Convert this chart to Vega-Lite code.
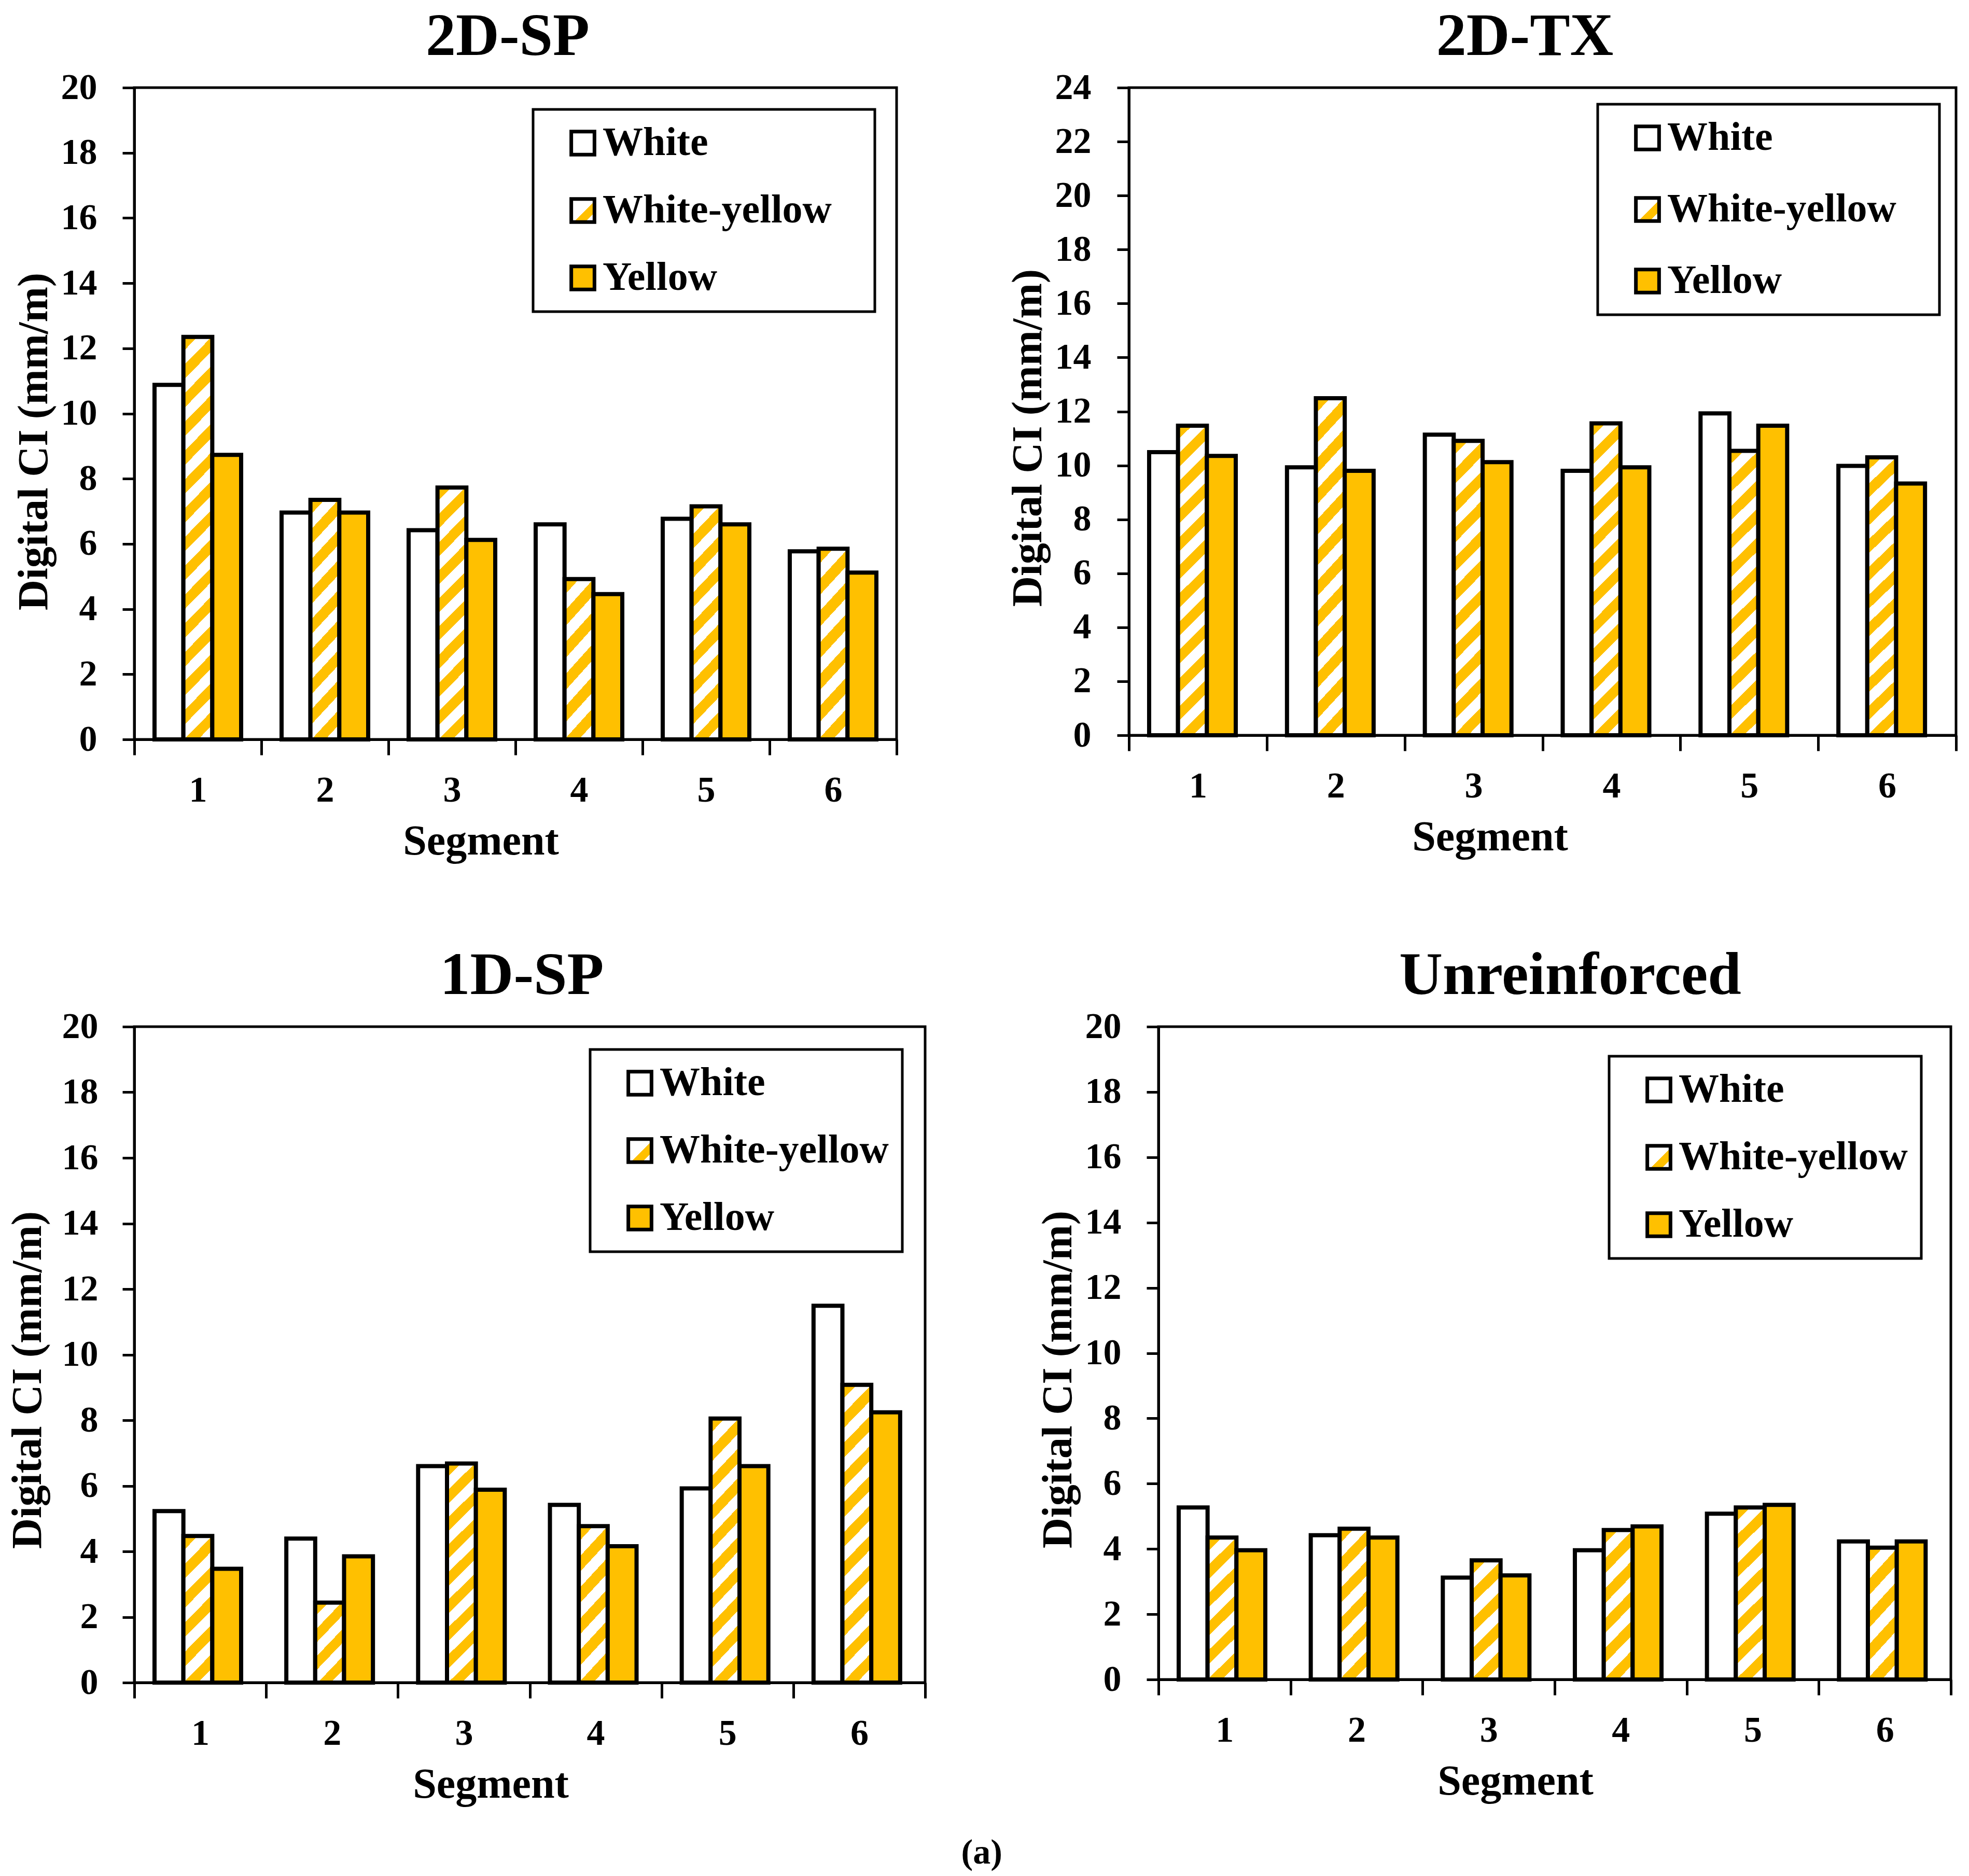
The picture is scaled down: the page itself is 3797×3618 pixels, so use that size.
{
"$schema": "https://vega.github.io/schema/vega-lite/v6.json",
"background": "white",
"padding": {"left": 9, "top": 10, "right": 5, "bottom": 5},
"params": [
{"name": "gl", "value": {"gradient": "linear", "x1": 0, "y1": 0, "x2": 1, "y2": 1, "stops": [{"offset":0,"color":"#FFFFFF"},{"offset":0.55,"color":"#FFFFFF"},{"offset":0.55,"color":"#FFC000"},{"offset":0.8,"color":"#FFC000"},{"offset":0.8,"color":"#FFFFFF"},{"offset":1,"color":"#FFFFFF"}]}},
{"name": "g4", "value": {"gradient": "linear", "x1": 0, "y1": 0, "x2": 0.4558, "y2": 1.2057, "stops": [{"offset":0,"color":"#FFC000"},{"offset":0.125,"color":"#FFC000"},{"offset":0.125,"color":"#FFFFFF"},{"offset":0.25,"color":"#FFFFFF"},{"offset":0.25,"color":"#FFC000"},{"offset":0.375,"color":"#FFC000"},{"offset":0.375,"color":"#FFFFFF"},{"offset":0.5,"color":"#FFFFFF"},{"offset":0.5,"color":"#FFC000"},{"offset":0.625,"color":"#FFC000"},{"offset":0.625,"color":"#FFFFFF"},{"offset":0.75,"color":"#FFFFFF"},{"offset":0.75,"color":"#FFC000"},{"offset":0.875,"color":"#FFC000"},{"offset":0.875,"color":"#FFFFFF"},{"offset":1,"color":"#FFFFFF"}]}},
{"name": "g5", "value": {"gradient": "linear", "x1": 0, "y1": 0, "x2": 0.2814, "y2": 1.1725, "stops": [{"offset":0,"color":"#FFC000"},{"offset":0.1,"color":"#FFC000"},{"offset":0.1,"color":"#FFFFFF"},{"offset":0.2,"color":"#FFFFFF"},{"offset":0.2,"color":"#FFC000"},{"offset":0.3,"color":"#FFC000"},{"offset":0.3,"color":"#FFFFFF"},{"offset":0.4,"color":"#FFFFFF"},{"offset":0.4,"color":"#FFC000"},{"offset":0.5,"color":"#FFC000"},{"offset":0.5,"color":"#FFFFFF"},{"offset":0.6,"color":"#FFFFFF"},{"offset":0.6,"color":"#FFC000"},{"offset":0.7,"color":"#FFC000"},{"offset":0.7,"color":"#FFFFFF"},{"offset":0.8,"color":"#FFFFFF"},{"offset":0.8,"color":"#FFC000"},{"offset":0.9,"color":"#FFC000"},{"offset":0.9,"color":"#FFFFFF"},{"offset":1,"color":"#FFFFFF"}]}},
{"name": "g6", "value": {"gradient": "linear", "x1": 0, "y1": 0, "x2": 0.2308, "y2": 1.1538, "stops": [{"offset":0,"color":"#FFC000"},{"offset":0.0833,"color":"#FFC000"},{"offset":0.0833,"color":"#FFFFFF"},{"offset":0.1667,"color":"#FFFFFF"},{"offset":0.1667,"color":"#FFC000"},{"offset":0.25,"color":"#FFC000"},{"offset":0.25,"color":"#FFFFFF"},{"offset":0.3333,"color":"#FFFFFF"},{"offset":0.3333,"color":"#FFC000"},{"offset":0.4167,"color":"#FFC000"},{"offset":0.4167,"color":"#FFFFFF"},{"offset":0.5,"color":"#FFFFFF"},{"offset":0.5,"color":"#FFC000"},{"offset":0.5833,"color":"#FFC000"},{"offset":0.5833,"color":"#FFFFFF"},{"offset":0.6667,"color":"#FFFFFF"},{"offset":0.6667,"color":"#FFC000"},{"offset":0.75,"color":"#FFC000"},{"offset":0.75,"color":"#FFFFFF"},{"offset":0.8333,"color":"#FFFFFF"},{"offset":0.8333,"color":"#FFC000"},{"offset":0.9167,"color":"#FFC000"},{"offset":0.9167,"color":"#FFFFFF"},{"offset":1,"color":"#FFFFFF"}]}},
{"name": "g7", "value": {"gradient": "linear", "x1": 0, "y1": 0, "x2": 0.1871, "y2": 1.1341, "stops": [{"offset":0,"color":"#FFC000"},{"offset":0.0714,"color":"#FFC000"},{"offset":0.0714,"color":"#FFFFFF"},{"offset":0.1429,"color":"#FFFFFF"},{"offset":0.1429,"color":"#FFC000"},{"offset":0.2143,"color":"#FFC000"},{"offset":0.2143,"color":"#FFFFFF"},{"offset":0.2857,"color":"#FFFFFF"},{"offset":0.2857,"color":"#FFC000"},{"offset":0.3571,"color":"#FFC000"},{"offset":0.3571,"color":"#FFFFFF"},{"offset":0.4286,"color":"#FFFFFF"},{"offset":0.4286,"color":"#FFC000"},{"offset":0.5,"color":"#FFC000"},{"offset":0.5,"color":"#FFFFFF"},{"offset":0.5714,"color":"#FFFFFF"},{"offset":0.5714,"color":"#FFC000"},{"offset":0.6429,"color":"#FFC000"},{"offset":0.6429,"color":"#FFFFFF"},{"offset":0.7143,"color":"#FFFFFF"},{"offset":0.7143,"color":"#FFC000"},{"offset":0.7857,"color":"#FFC000"},{"offset":0.7857,"color":"#FFFFFF"},{"offset":0.8571,"color":"#FFFFFF"},{"offset":0.8571,"color":"#FFC000"},{"offset":0.9286,"color":"#FFC000"},{"offset":0.9286,"color":"#FFFFFF"},{"offset":1,"color":"#FFFFFF"}]}},
{"name": "g9", "value": {"gradient": "linear", "x1": 0, "y1": 0, "x2": 0.1445, "y2": 1.1112, "stops": [{"offset":0,"color":"#FFC000"},{"offset":0.0556,"color":"#FFC000"},{"offset":0.0556,"color":"#FFFFFF"},{"offset":0.1111,"color":"#FFFFFF"},{"offset":0.1111,"color":"#FFC000"},{"offset":0.1667,"color":"#FFC000"},{"offset":0.1667,"color":"#FFFFFF"},{"offset":0.2222,"color":"#FFFFFF"},{"offset":0.2222,"color":"#FFC000"},{"offset":0.2778,"color":"#FFC000"},{"offset":0.2778,"color":"#FFFFFF"},{"offset":0.3333,"color":"#FFFFFF"},{"offset":0.3333,"color":"#FFC000"},{"offset":0.3889,"color":"#FFC000"},{"offset":0.3889,"color":"#FFFFFF"},{"offset":0.4444,"color":"#FFFFFF"},{"offset":0.4444,"color":"#FFC000"},{"offset":0.5,"color":"#FFC000"},{"offset":0.5,"color":"#FFFFFF"},{"offset":0.5556,"color":"#FFFFFF"},{"offset":0.5556,"color":"#FFC000"},{"offset":0.6111,"color":"#FFC000"},{"offset":0.6111,"color":"#FFFFFF"},{"offset":0.6667,"color":"#FFFFFF"},{"offset":0.6667,"color":"#FFC000"},{"offset":0.7222,"color":"#FFC000"},{"offset":0.7222,"color":"#FFFFFF"},{"offset":0.7778,"color":"#FFFFFF"},{"offset":0.7778,"color":"#FFC000"},{"offset":0.8333,"color":"#FFC000"},{"offset":0.8333,"color":"#FFFFFF"},{"offset":0.8889,"color":"#FFFFFF"},{"offset":0.8889,"color":"#FFC000"},{"offset":0.9444,"color":"#FFC000"},{"offset":0.9444,"color":"#FFFFFF"},{"offset":1,"color":"#FFFFFF"}]}},
{"name": "g10", "value": {"gradient": "linear", "x1": 0, "y1": 0, "x2": 0.1277, "y2": 1.1012, "stops": [{"offset":0,"color":"#FFC000"},{"offset":0.05,"color":"#FFC000"},{"offset":0.05,"color":"#FFFFFF"},{"offset":0.1,"color":"#FFFFFF"},{"offset":0.1,"color":"#FFC000"},{"offset":0.15,"color":"#FFC000"},{"offset":0.15,"color":"#FFFFFF"},{"offset":0.2,"color":"#FFFFFF"},{"offset":0.2,"color":"#FFC000"},{"offset":0.25,"color":"#FFC000"},{"offset":0.25,"color":"#FFFFFF"},{"offset":0.3,"color":"#FFFFFF"},{"offset":0.3,"color":"#FFC000"},{"offset":0.35,"color":"#FFC000"},{"offset":0.35,"color":"#FFFFFF"},{"offset":0.4,"color":"#FFFFFF"},{"offset":0.4,"color":"#FFC000"},{"offset":0.45,"color":"#FFC000"},{"offset":0.45,"color":"#FFFFFF"},{"offset":0.5,"color":"#FFFFFF"},{"offset":0.5,"color":"#FFC000"},{"offset":0.55,"color":"#FFC000"},{"offset":0.55,"color":"#FFFFFF"},{"offset":0.6,"color":"#FFFFFF"},{"offset":0.6,"color":"#FFC000"},{"offset":0.65,"color":"#FFC000"},{"offset":0.65,"color":"#FFFFFF"},{"offset":0.7,"color":"#FFFFFF"},{"offset":0.7,"color":"#FFC000"},{"offset":0.75,"color":"#FFC000"},{"offset":0.75,"color":"#FFFFFF"},{"offset":0.8,"color":"#FFFFFF"},{"offset":0.8,"color":"#FFC000"},{"offset":0.85,"color":"#FFC000"},{"offset":0.85,"color":"#FFFFFF"},{"offset":0.9,"color":"#FFFFFF"},{"offset":0.9,"color":"#FFC000"},{"offset":0.95,"color":"#FFC000"},{"offset":0.95,"color":"#FFFFFF"},{"offset":1,"color":"#FFFFFF"}]}},
{"name": "g11", "value": {"gradient": "linear", "x1": 0, "y1": 0, "x2": 0.1089, "y2": 1.0891, "stops": [{"offset":0,"color":"#FFC000"},{"offset":0.0455,"color":"#FFC000"},{"offset":0.0455,"color":"#FFFFFF"},{"offset":0.0909,"color":"#FFFFFF"},{"offset":0.0909,"color":"#FFC000"},{"offset":0.1364,"color":"#FFC000"},{"offset":0.1364,"color":"#FFFFFF"},{"offset":0.1818,"color":"#FFFFFF"},{"offset":0.1818,"color":"#FFC000"},{"offset":0.2273,"color":"#FFC000"},{"offset":0.2273,"color":"#FFFFFF"},{"offset":0.2727,"color":"#FFFFFF"},{"offset":0.2727,"color":"#FFC000"},{"offset":0.3182,"color":"#FFC000"},{"offset":0.3182,"color":"#FFFFFF"},{"offset":0.3636,"color":"#FFFFFF"},{"offset":0.3636,"color":"#FFC000"},{"offset":0.4091,"color":"#FFC000"},{"offset":0.4091,"color":"#FFFFFF"},{"offset":0.4545,"color":"#FFFFFF"},{"offset":0.4545,"color":"#FFC000"},{"offset":0.5,"color":"#FFC000"},{"offset":0.5,"color":"#FFFFFF"},{"offset":0.5455,"color":"#FFFFFF"},{"offset":0.5455,"color":"#FFC000"},{"offset":0.5909,"color":"#FFC000"},{"offset":0.5909,"color":"#FFFFFF"},{"offset":0.6364,"color":"#FFFFFF"},{"offset":0.6364,"color":"#FFC000"},{"offset":0.6818,"color":"#FFC000"},{"offset":0.6818,"color":"#FFFFFF"},{"offset":0.7273,"color":"#FFFFFF"},{"offset":0.7273,"color":"#FFC000"},{"offset":0.7727,"color":"#FFC000"},{"offset":0.7727,"color":"#FFFFFF"},{"offset":0.8182,"color":"#FFFFFF"},{"offset":0.8182,"color":"#FFC000"},{"offset":0.8636,"color":"#FFC000"},{"offset":0.8636,"color":"#FFFFFF"},{"offset":0.9091,"color":"#FFFFFF"},{"offset":0.9091,"color":"#FFC000"},{"offset":0.9545,"color":"#FFC000"},{"offset":0.9545,"color":"#FFFFFF"},{"offset":1,"color":"#FFFFFF"}]}},
{"name": "g12", "value": {"gradient": "linear", "x1": 0, "y1": 0, "x2": 0.1008, "y2": 1.0836, "stops": [{"offset":0,"color":"#FFC000"},{"offset":0.0417,"color":"#FFC000"},{"offset":0.0417,"color":"#FFFFFF"},{"offset":0.0833,"color":"#FFFFFF"},{"offset":0.0833,"color":"#FFC000"},{"offset":0.125,"color":"#FFC000"},{"offset":0.125,"color":"#FFFFFF"},{"offset":0.1667,"color":"#FFFFFF"},{"offset":0.1667,"color":"#FFC000"},{"offset":0.2083,"color":"#FFC000"},{"offset":0.2083,"color":"#FFFFFF"},{"offset":0.25,"color":"#FFFFFF"},{"offset":0.25,"color":"#FFC000"},{"offset":0.2917,"color":"#FFC000"},{"offset":0.2917,"color":"#FFFFFF"},{"offset":0.3333,"color":"#FFFFFF"},{"offset":0.3333,"color":"#FFC000"},{"offset":0.375,"color":"#FFC000"},{"offset":0.375,"color":"#FFFFFF"},{"offset":0.4167,"color":"#FFFFFF"},{"offset":0.4167,"color":"#FFC000"},{"offset":0.4583,"color":"#FFC000"},{"offset":0.4583,"color":"#FFFFFF"},{"offset":0.5,"color":"#FFFFFF"},{"offset":0.5,"color":"#FFC000"},{"offset":0.5417,"color":"#FFC000"},{"offset":0.5417,"color":"#FFFFFF"},{"offset":0.5833,"color":"#FFFFFF"},{"offset":0.5833,"color":"#FFC000"},{"offset":0.625,"color":"#FFC000"},{"offset":0.625,"color":"#FFFFFF"},{"offset":0.6667,"color":"#FFFFFF"},{"offset":0.6667,"color":"#FFC000"},{"offset":0.7083,"color":"#FFC000"},{"offset":0.7083,"color":"#FFFFFF"},{"offset":0.75,"color":"#FFFFFF"},{"offset":0.75,"color":"#FFC000"},{"offset":0.7917,"color":"#FFC000"},{"offset":0.7917,"color":"#FFFFFF"},{"offset":0.8333,"color":"#FFFFFF"},{"offset":0.8333,"color":"#FFC000"},{"offset":0.875,"color":"#FFC000"},{"offset":0.875,"color":"#FFFFFF"},{"offset":0.9167,"color":"#FFFFFF"},{"offset":0.9167,"color":"#FFC000"},{"offset":0.9583,"color":"#FFC000"},{"offset":0.9583,"color":"#FFFFFF"},{"offset":1,"color":"#FFFFFF"}]}},
{"name": "g15", "value": {"gradient": "linear", "x1": 0, "y1": 0, "x2": 0.0785, "y2": 1.0677, "stops": [{"offset":0,"color":"#FFC000"},{"offset":0.0333,"color":"#FFC000"},{"offset":0.0333,"color":"#FFFFFF"},{"offset":0.0667,"color":"#FFFFFF"},{"offset":0.0667,"color":"#FFC000"},{"offset":0.1,"color":"#FFC000"},{"offset":0.1,"color":"#FFFFFF"},{"offset":0.1333,"color":"#FFFFFF"},{"offset":0.1333,"color":"#FFC000"},{"offset":0.1667,"color":"#FFC000"},{"offset":0.1667,"color":"#FFFFFF"},{"offset":0.2,"color":"#FFFFFF"},{"offset":0.2,"color":"#FFC000"},{"offset":0.2333,"color":"#FFC000"},{"offset":0.2333,"color":"#FFFFFF"},{"offset":0.2667,"color":"#FFFFFF"},{"offset":0.2667,"color":"#FFC000"},{"offset":0.3,"color":"#FFC000"},{"offset":0.3,"color":"#FFFFFF"},{"offset":0.3333,"color":"#FFFFFF"},{"offset":0.3333,"color":"#FFC000"},{"offset":0.3667,"color":"#FFC000"},{"offset":0.3667,"color":"#FFFFFF"},{"offset":0.4,"color":"#FFFFFF"},{"offset":0.4,"color":"#FFC000"},{"offset":0.4333,"color":"#FFC000"},{"offset":0.4333,"color":"#FFFFFF"},{"offset":0.4667,"color":"#FFFFFF"},{"offset":0.4667,"color":"#FFC000"},{"offset":0.5,"color":"#FFC000"},{"offset":0.5,"color":"#FFFFFF"},{"offset":0.5333,"color":"#FFFFFF"},{"offset":0.5333,"color":"#FFC000"},{"offset":0.5667,"color":"#FFC000"},{"offset":0.5667,"color":"#FFFFFF"},{"offset":0.6,"color":"#FFFFFF"},{"offset":0.6,"color":"#FFC000"},{"offset":0.6333,"color":"#FFC000"},{"offset":0.6333,"color":"#FFFFFF"},{"offset":0.6667,"color":"#FFFFFF"},{"offset":0.6667,"color":"#FFC000"},{"offset":0.7,"color":"#FFC000"},{"offset":0.7,"color":"#FFFFFF"},{"offset":0.7333,"color":"#FFFFFF"},{"offset":0.7333,"color":"#FFC000"},{"offset":0.7667,"color":"#FFC000"},{"offset":0.7667,"color":"#FFFFFF"},{"offset":0.8,"color":"#FFFFFF"},{"offset":0.8,"color":"#FFC000"},{"offset":0.8333,"color":"#FFC000"},{"offset":0.8333,"color":"#FFFFFF"},{"offset":0.8667,"color":"#FFFFFF"},{"offset":0.8667,"color":"#FFC000"},{"offset":0.9,"color":"#FFC000"},{"offset":0.9,"color":"#FFFFFF"},{"offset":0.9333,"color":"#FFFFFF"},{"offset":0.9333,"color":"#FFC000"},{"offset":0.9667,"color":"#FFC000"},{"offset":0.9667,"color":"#FFFFFF"},{"offset":1,"color":"#FFFFFF"}]}}
],
"datasets": {"ci": [
{"panel":"2D-SP","Segment":1,"Color":"White","CI":10.88},{"panel":"2D-SP","Segment":1,"Color":"White-yellow","CI":12.35},{"panel":"2D-SP","Segment":1,"Color":"Yellow","CI":8.73},
{"panel":"2D-SP","Segment":2,"Color":"White","CI":6.96},{"panel":"2D-SP","Segment":2,"Color":"White-yellow","CI":7.35},{"panel":"2D-SP","Segment":2,"Color":"Yellow","CI":6.96},
{"panel":"2D-SP","Segment":3,"Color":"White","CI":6.42},{"panel":"2D-SP","Segment":3,"Color":"White-yellow","CI":7.73},{"panel":"2D-SP","Segment":3,"Color":"Yellow","CI":6.12},
{"panel":"2D-SP","Segment":4,"Color":"White","CI":6.6},{"panel":"2D-SP","Segment":4,"Color":"White-yellow","CI":4.92},{"panel":"2D-SP","Segment":4,"Color":"Yellow","CI":4.46},
{"panel":"2D-SP","Segment":5,"Color":"White","CI":6.77},{"panel":"2D-SP","Segment":5,"Color":"White-yellow","CI":7.15},{"panel":"2D-SP","Segment":5,"Color":"Yellow","CI":6.6},
{"panel":"2D-SP","Segment":6,"Color":"White","CI":5.77},{"panel":"2D-SP","Segment":6,"Color":"White-yellow","CI":5.85},{"panel":"2D-SP","Segment":6,"Color":"Yellow","CI":5.12},
{"panel":"2D-TX","Segment":1,"Color":"White","CI":10.49},{"panel":"2D-TX","Segment":1,"Color":"White-yellow","CI":11.47},{"panel":"2D-TX","Segment":1,"Color":"Yellow","CI":10.35},
{"panel":"2D-TX","Segment":2,"Color":"White","CI":9.93},{"panel":"2D-TX","Segment":2,"Color":"White-yellow","CI":12.49},{"panel":"2D-TX","Segment":2,"Color":"Yellow","CI":9.8},
{"panel":"2D-TX","Segment":3,"Color":"White","CI":11.14},{"panel":"2D-TX","Segment":3,"Color":"White-yellow","CI":10.91},{"panel":"2D-TX","Segment":3,"Color":"Yellow","CI":10.12},
{"panel":"2D-TX","Segment":4,"Color":"White","CI":9.8},{"panel":"2D-TX","Segment":4,"Color":"White-yellow","CI":11.56},{"panel":"2D-TX","Segment":4,"Color":"Yellow","CI":9.93},
{"panel":"2D-TX","Segment":5,"Color":"White","CI":11.93},{"panel":"2D-TX","Segment":5,"Color":"White-yellow","CI":10.54},{"panel":"2D-TX","Segment":5,"Color":"Yellow","CI":11.47},
{"panel":"2D-TX","Segment":6,"Color":"White","CI":9.98},{"panel":"2D-TX","Segment":6,"Color":"White-yellow","CI":10.3},{"panel":"2D-TX","Segment":6,"Color":"Yellow","CI":9.33},
{"panel":"1D-SP","Segment":1,"Color":"White","CI":5.23},{"panel":"1D-SP","Segment":1,"Color":"White-yellow","CI":4.47},{"panel":"1D-SP","Segment":1,"Color":"Yellow","CI":3.47},
{"panel":"1D-SP","Segment":2,"Color":"White","CI":4.39},{"panel":"1D-SP","Segment":2,"Color":"White-yellow","CI":2.44},{"panel":"1D-SP","Segment":2,"Color":"Yellow","CI":3.85},
{"panel":"1D-SP","Segment":3,"Color":"White","CI":6.6},{"panel":"1D-SP","Segment":3,"Color":"White-yellow","CI":6.68},{"panel":"1D-SP","Segment":3,"Color":"Yellow","CI":5.88},
{"panel":"1D-SP","Segment":4,"Color":"White","CI":5.42},{"panel":"1D-SP","Segment":4,"Color":"White-yellow","CI":4.77},{"panel":"1D-SP","Segment":4,"Color":"Yellow","CI":4.16},
{"panel":"1D-SP","Segment":5,"Color":"White","CI":5.92},{"panel":"1D-SP","Segment":5,"Color":"White-yellow","CI":8.05},{"panel":"1D-SP","Segment":5,"Color":"Yellow","CI":6.6},
{"panel":"1D-SP","Segment":6,"Color":"White","CI":11.49},{"panel":"1D-SP","Segment":6,"Color":"White-yellow","CI":9.08},{"panel":"1D-SP","Segment":6,"Color":"Yellow","CI":8.24},
{"panel":"Unreinforced","Segment":1,"Color":"White","CI":5.27},{"panel":"Unreinforced","Segment":1,"Color":"White-yellow","CI":4.35},{"panel":"Unreinforced","Segment":1,"Color":"Yellow","CI":3.96},
{"panel":"Unreinforced","Segment":2,"Color":"White","CI":4.42},{"panel":"Unreinforced","Segment":2,"Color":"White-yellow","CI":4.62},{"panel":"Unreinforced","Segment":2,"Color":"Yellow","CI":4.35},
{"panel":"Unreinforced","Segment":3,"Color":"White","CI":3.12},{"panel":"Unreinforced","Segment":3,"Color":"White-yellow","CI":3.65},{"panel":"Unreinforced","Segment":3,"Color":"Yellow","CI":3.19},
{"panel":"Unreinforced","Segment":4,"Color":"White","CI":3.96},{"panel":"Unreinforced","Segment":4,"Color":"White-yellow","CI":4.58},{"panel":"Unreinforced","Segment":4,"Color":"Yellow","CI":4.69},
{"panel":"Unreinforced","Segment":5,"Color":"White","CI":5.08},{"panel":"Unreinforced","Segment":5,"Color":"White-yellow","CI":5.27},{"panel":"Unreinforced","Segment":5,"Color":"Yellow","CI":5.35},
{"panel":"Unreinforced","Segment":6,"Color":"White","CI":4.23},{"panel":"Unreinforced","Segment":6,"Color":"White-yellow","CI":4.04},{"panel":"Unreinforced","Segment":6,"Color":"Yellow","CI":4.23}
]},
"title": {"text": "(a)", "orient": "bottom", "anchor": "middle", "fontSize": 68, "offset": 55, "frame": "bounds"},
"spacing": 155,
"resolve": {"scale": {"fill": "independent", "x": "independent", "y": "independent"}, "legend": {"fill": "independent"}},
"vconcat": [
{"spacing": 204, "resolve": {"scale": {"fill": "independent", "x": "independent", "y": "independent"}, "legend": {"fill": "independent"}},
 "hconcat": [
 {"title": {"text": "2D-SP", "dx": -15}, "width": 1470, "height": 1257,
  "data": {"name": "ci"}, "transform": [{"filter": "datum.panel === '2D-SP'"}],
  "mark": {"type": "bar", "stroke": "black", "strokeWidth": 8},
  "encoding": {
   "x": {"field": "Segment", "type": "ordinal", "title": "Segment", "scale": {"paddingInner": 0, "paddingOuter": 0}, "axis": {"titleX": 668}},
   "xOffset": {"field": "Color", "type": "nominal", "sort": ["White", "White-yellow", "Yellow"], "scale": {"paddingInner": 0, "paddingOuter": 0.7}},
   "y": {"field": "CI", "type": "quantitative", "title": "Digital CI (mm/m)", "scale": {"domain": [0, 20], "nice": false}, "axis": {"values": [0, 2, 4, 6, 8, 10, 12, 14, 16, 18, 20], "titleY": 682}},
   "fill": {"field": "Color", "type": "nominal",
    "scale": {"domain": ["White", "White-yellow", "Yellow"], "range": ["#FFFFFF", {"expr": "gl"}, "#FFC000"]},
    "legend": {"title": null, "offset": 42, "labelExpr": "datum.label + '\u2800'"},
    "condition": [
     {"test": "datum.Color === 'White-yellow' && datum.CI < 5", "value": {"expr": "g6"}},
     {"test": "datum.Color === 'White-yellow' && datum.CI < 6", "value": {"expr": "g7"}},
     {"test": "datum.Color === 'White-yellow' && datum.CI < 7.5", "value": {"expr": "g9"}},
     {"test": "datum.Color === 'White-yellow' && datum.CI < 8.5", "value": {"expr": "g10"}},
     {"test": "datum.Color === 'White-yellow'", "value": {"expr": "g15"}}
    ]}
  }},
 {"title": {"text": "2D-TX", "dx": -34}, "width": 1595, "height": 1249,
  "data": {"name": "ci"}, "transform": [{"filter": "datum.panel === '2D-TX'"}],
  "mark": {"type": "bar", "stroke": "black", "strokeWidth": 8},
  "encoding": {
   "x": {"field": "Segment", "type": "ordinal", "title": "Segment", "scale": {"paddingInner": 0, "paddingOuter": 0}, "axis": {"titleX": 696}},
   "xOffset": {"field": "Color", "type": "nominal", "sort": ["White", "White-yellow", "Yellow"], "scale": {"paddingInner": 0, "paddingOuter": 0.7}},
   "y": {"field": "CI", "type": "quantitative", "title": "Digital CI (mm/m)", "scale": {"domain": [0, 24], "nice": false}, "axis": {"values": [0, 2, 4, 6, 8, 10, 12, 14, 16, 18, 20, 22, 24], "labelPadding": 50, "titlePadding": 10, "titleY": 675}},
   "fill": {"field": "Color", "type": "nominal",
    "scale": {"domain": ["White", "White-yellow", "Yellow"], "range": ["#FFFFFF", {"expr": "gl"}, "#FFC000"]},
    "legend": {"title": null, "offset": 32, "rowPadding": 60, "labelExpr": "datum.label + '\u2800'"},
    "condition": [
     {"test": "datum.Color === 'White-yellow' && datum.CI < 11", "value": {"expr": "g11"}},
     {"test": "datum.Color === 'White-yellow'", "value": {"expr": "g12"}}
    ]}
  }}
 ]},
{"spacing": 207, "resolve": {"scale": {"fill": "independent", "x": "independent", "y": "independent"}, "legend": {"fill": "independent"}},
 "hconcat": [
 {"title": {"text": "1D-SP", "dx": -15}, "width": 1525, "height": 1265,
  "data": {"name": "ci"}, "transform": [{"filter": "datum.panel === '1D-SP'"}],
  "mark": {"type": "bar", "stroke": "black", "strokeWidth": 8},
  "encoding": {
   "x": {"field": "Segment", "type": "ordinal", "title": "Segment", "scale": {"paddingInner": 0, "paddingOuter": 0}, "axis": {"titleX": 687}},
   "xOffset": {"field": "Color", "type": "nominal", "sort": ["White", "White-yellow", "Yellow"], "scale": {"paddingInner": 0, "paddingOuter": 0.7}},
   "y": {"field": "CI", "type": "quantitative", "title": "Digital CI (mm/m)", "scale": {"domain": [0, 20], "nice": false}, "axis": {"values": [0, 2, 4, 6, 8, 10, 12, 14, 16, 18, 20], "labelPadding": 47, "titlePadding": 24, "titleY": 681}},
   "fill": {"field": "Color", "type": "nominal",
    "scale": {"domain": ["White", "White-yellow", "Yellow"], "range": ["#FFFFFF", {"expr": "gl"}, "#FFC000"]},
    "legend": {"title": null, "offset": 44},
    "condition": [
     {"test": "datum.Color === 'White-yellow' && datum.CI < 3", "value": {"expr": "g4"}},
     {"test": "datum.Color === 'White-yellow' && datum.CI < 5", "value": {"expr": "g6"}},
     {"test": "datum.Color === 'White-yellow' && datum.CI < 7.5", "value": {"expr": "g9"}},
     {"test": "datum.Color === 'White-yellow' && datum.CI < 8.5", "value": {"expr": "g10"}},
     {"test": "datum.Color === 'White-yellow'", "value": {"expr": "g11"}}
    ]}
  }},
 {"title": {"text": "Unreinforced", "dx": 30}, "width": 1528, "height": 1259,
  "data": {"name": "ci"}, "transform": [{"filter": "datum.panel === 'Unreinforced'"}],
  "mark": {"type": "bar", "stroke": "black", "strokeWidth": 8},
  "encoding": {
   "x": {"field": "Segment", "type": "ordinal", "title": "Segment", "scale": {"paddingInner": 0, "paddingOuter": 0}, "axis": {"titleX": 688}},
   "xOffset": {"field": "Color", "type": "nominal", "sort": ["White", "White-yellow", "Yellow"], "scale": {"paddingInner": 0, "paddingOuter": 0.7}},
   "y": {"field": "CI", "type": "quantitative", "title": "Digital CI (mm/m)", "scale": {"domain": [0, 20], "nice": false}, "axis": {"values": [0, 2, 4, 6, 8, 10, 12, 14, 16, 18, 20], "titleY": 680}},
   "fill": {"field": "Color", "type": "nominal",
    "scale": {"domain": ["White", "White-yellow", "Yellow"], "range": ["#FFFFFF", {"expr": "gl"}, "#FFC000"]},
    "legend": {"title": null, "offset": 57},
    "condition": [
     {"test": "datum.Color === 'White-yellow' && datum.CI < 4.2", "value": {"expr": "g5"}},
     {"test": "datum.Color === 'White-yellow' && datum.CI < 5", "value": {"expr": "g6"}},
     {"test": "datum.Color === 'White-yellow'", "value": {"expr": "g7"}}
    ]}
  }}
 ]}
],
"config": {
 "font": "Liberation Serif",
 "view": {"stroke": "black", "strokeWidth": 5},
 "axis": {"domainColor": "black", "domainWidth": 5, "tickColor": "black", "tickWidth": 5, "labelFont": "Liberation Serif", "labelFontSize": 70, "labelFontWeight": "bold", "labelColor": "black", "titleFont": "Liberation Serif", "titleFontSize": 82, "titleFontWeight": "bold", "titleColor": "black", "grid": false},
 "axisX": {"labelAngle": 0, "tickBand": "extent", "tickSize": 30, "labelPadding": 34, "titlePadding": 23},
 "axisY": {"tickSize": 23, "labelPadding": 49, "titlePadding": 10},
 "title": {"font": "Liberation Serif", "fontSize": 116, "fontWeight": "bold", "color": "black", "anchor": "middle", "frame": "group", "offset": 0},
 "legend": {"orient": "top-right", "padding": 26, "strokeColor": "black", "strokeWidth": 5, "fillColor": "white", "symbolType": "square", "symbolSize": 2000, "symbolStrokeWidth": 7, "symbolStrokeColor": "black", "symbolOffset": 31, "labelOffset": -1, "labelFont": "Liberation Serif", "labelFontSize": 78, "labelFontWeight": "bold", "labelColor": "black", "labelLimit": 2000, "rowPadding": 52}
}
}
